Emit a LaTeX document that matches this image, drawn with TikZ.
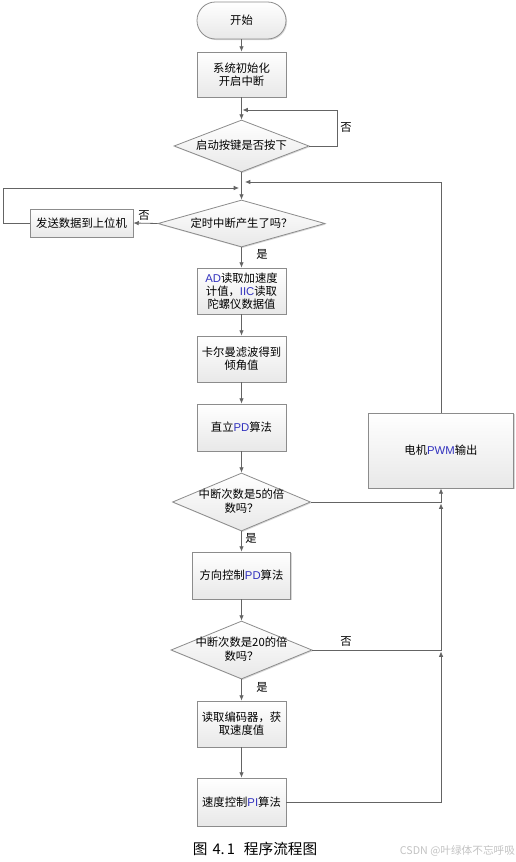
\documentclass[tikz,border=0pt]{standalone}
\usepackage{fontspec}
\setmainfont{Noto Sans CJK SC}
\newfontfamily\latf{Liberation Sans}
\usetikzlibrary{shapes.geometric,arrows.meta,shadows}
\definecolor{latblue}{RGB}{50,50,190}
\definecolor{lineg}{RGB}{100,100,100}
\definecolor{boxg}{RGB}{140,140,140}
\definecolor{wmg}{RGB}{195,195,195}
\newcommand\enw[1]{{\latf\color{latblue}#1}}
\newcommand\fsz{\fontsize{8.5}{9.6}\selectfont}
\newcommand\dtxt[1]{\smash{\raisebox{-0.3em}{\makebox[0pt]{\begin{tabular}{@{}c@{}}#1\end{tabular}}}}}
\begin{document}
\begin{tikzpicture}[x=0.75pt,y=-0.75pt,
  box/.style={draw=boxg, line width=0.6pt, top color=white, bottom color=black!9,
    drop shadow={shadow xshift=0.8pt, shadow yshift=-0.8pt, opacity=0.3},
    align=center, font=\fsz, inner sep=1pt},
  dec/.style={diamond, draw=boxg, line width=0.6pt, top color=white, bottom color=black!9,
    drop shadow={shadow xshift=0.8pt, shadow yshift=-0.8pt, opacity=0.3},
    inner sep=0pt, font=\fsz},
  conn/.style={draw=lineg, line width=0.6pt, -{Latex[length=4pt,width=3.4pt]}},
  lab/.style={font=\fsz, inner sep=0pt}]
\useasboundingbox[fill=white] (0,0) rectangle (515,862);

\node[box, rounded corners=13.8pt, minimum width=66.75pt, minimum height=27.75pt] (start) at (241.5,20.5) {开始};
\node[box, minimum width=66.75pt, minimum height=33.75pt] (init) at (241.5,74.5) {系统初始化\\开启中断};
\node[dec, minimum width=101.25pt, minimum height=39pt] (d1) at (241.5,146) {\dtxt{启动按键是否按下}};
\node[dec, minimum width=125.25pt, minimum height=35.25pt] (d2) at (241.5,223.5) {\dtxt{定时中断产生了吗？}};
\node[box, minimum width=77.25pt, minimum height=21pt] (send) at (81.5,223) {发送数据到上位机};
\node[box, minimum width=66.75pt, minimum height=34.5pt] (ad) at (241.5,291) {\enw{AD}读取加速度\\计值，\enw{IIC}读取\\陀螺仪数据值};
\node[box, minimum width=66.75pt, minimum height=34.5pt] (kal) at (241.5,359) {卡尔曼滤波得到\\倾角值};
\node[box, minimum width=66.75pt, minimum height=35.25pt] (zl) at (241.5,427.5) {直立\enw{PD}算法};
\node[dec, minimum width=103.5pt, minimum height=43.5pt] (d3) at (241.5,502) {\dtxt{中断次数是5的倍\\数吗？}};
\node[box, minimum width=73.5pt, minimum height=35.25pt] (fx) at (241.5,575.5) {方向控制\enw{PD}算法};
\node[dec, minimum width=105.75pt, minimum height=43.5pt] (d4) at (241.5,650) {\dtxt{中断次数是20的倍\\数吗？}};
\node[box, minimum width=66.75pt, minimum height=34.5pt] (enc) at (241.5,724) {读取编码器，获\\取速度值};
\node[box, minimum width=66.75pt, minimum height=36pt] (spd) at (241.5,802) {速度控制\enw{PI}算法};
\node[box, minimum width=108.75pt, minimum height=56.25pt] (pwm) at (441,450.5) {电机\enw{PWM}输出};

\coordinate (k1) at (337,110);
\coordinate (c1) at (242.5,110);
\coordinate (k2) at (3,188);
\coordinate (c2) at (239,188);
\coordinate (c3) at (245,182);
\coordinate (c4) at (441,503.5);
\coordinate (c5) at (441,651.5);

\draw[conn] (start) -- (init);
\draw[conn] (init) -- (d1);
\draw[conn] (d1.east) -| (k1) -- (c1);
\draw[conn] (d1) -- (d2);
\draw[conn] (d2.west) -- (send.east);
\draw[conn] (send.west) -| (k2) -- (c2);
\draw[conn] (pwm.north) |- (c3);
\draw[conn] (d2) -- (ad);
\draw[conn] (ad) -- (kal);
\draw[conn] (kal) -- (zl);
\draw[conn] (zl) -- (d3);
\draw[conn] (d3) -- (fx);
\draw[conn] (d3.east) -| (pwm.south);
\draw[conn] (fx) -- (d4);
\draw[conn] (d4.east) -| (c4);
\draw[conn] (d4) -- (enc);
\draw[conn] (enc) -- (spd);
\draw[conn] (spd.east) -| (c5);

\node[lab] (n1) at (346,128) {否};
\node[lab] (n2) at (144,216) {否};
\node[lab] (y1) at (262,254) {是};
\node[lab] (y2) at (251,538) {是};
\node[lab] (n3) at (346,642) {否};
\node[lab] (y3) at (262,687) {是};

\node[font=\fontsize{11}{13}\selectfont, inner sep=0pt] (cap) at (255,849) {图\hspace{0.35em}4.\hspace{0.15em}1\hspace{0.6em}程序流程图};
\node[font=\fontsize{8}{9}\selectfont, text=wmg, inner sep=0pt] (wm) at (457.5,851) {CSDN @叶绿体不忘呼吸};
\end{tikzpicture}
\end{document}
